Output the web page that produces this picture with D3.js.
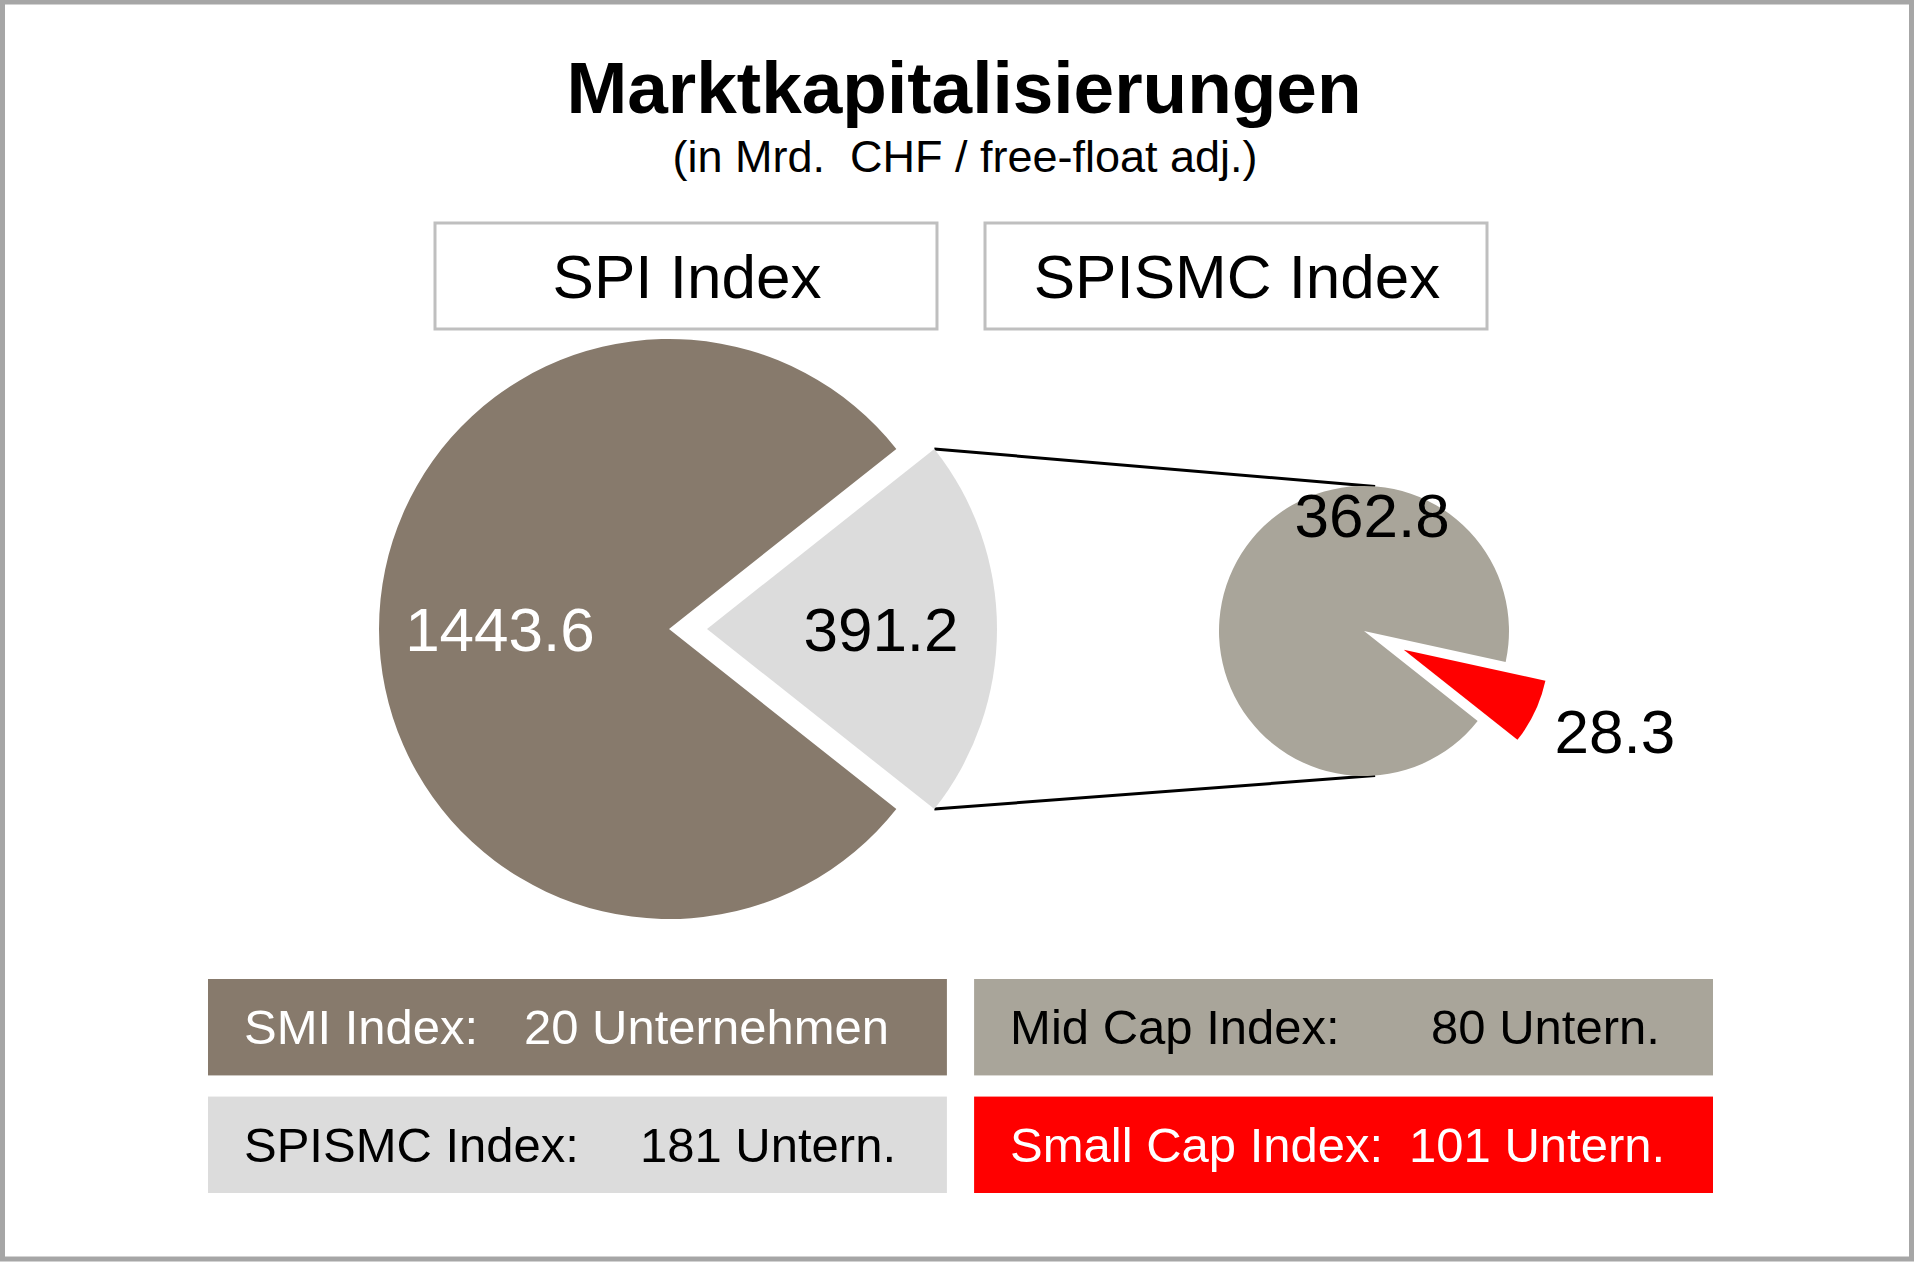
<!DOCTYPE html>
<html>
<head>
<meta charset="utf-8">
<script src="https://cdn.jsdelivr.net/npm/d3@7"></script>
<style>
    body { margin: 0; background: white; }
    svg { display: block; font-family: 'Liberation Sans', Arial, sans-serif; }
</style>
</head>
<body>
<svg id="fig_pie"></svg>
<script>
'use strict';

// values (Mrd. CHF)
var spi_names = ['SMI Index', 'SPISMC Index'];
var spi_values = [1443.6, 391.2];
var smc_names = ['Mid Cap Index', 'Small Cap Index'];
var smc_values = [362.8, 28.3];

var header_labels = ['SPI Index', 'SPISMC Index'];
var legend_labels = ['SMI Index:', 'Mid Cap Index:', 'SPISMC Index:', 'Small Cap Index:'];
var legend_counts = ['20 Unternehmen', '80 Untern.', '181 Untern.', '101 Untern.'];

var fig_pie = {
    plot_id: '#fig_pie',
    svg: null,
    width: 1916,
    height: 1262,
    font_label: 62,
    font_legend: 49,

    colors: {
        'SMI Index': '#877a6c',
        'SPISMC Index': '#dcdcdc',
        'Mid Cap Index': '#a9a59a',
        'Small Cap Index': '#ff0000'
    },
    text_colors: {
        'SMI Index': 'white',
        'SPISMC Index': 'black',
        'Mid Cap Index': 'black',
        'Small Cap Index': 'black'
    },
    legend_text_colors: ['white', 'black', 'black', 'white'],

    // main pie and secondary pie
    main: { cx: 669, cy: 629, r: 290 },
    sec: { cx: 1364, cy: 631, r: 145 },
    explode: { 'SPISMC Index': 38, 'Small Cap Index': 44 },

    // label placement: radius as fraction of r, angle (deg) or null for slice middle
    label_pos: {
        'SMI Index': { rf: 0.583, angle: null },
        'SPISMC Index': { rf: 0.6, angle: null },
        'Mid Cap Index': { rf: 0.80, angle: 4 },
        'Small Cap Index': { rf: 1.56, angle: 111 }
    },

    init: function() {
        this.svg = d3.select(this.plot_id)
            .attr('width', this.width)
            .attr('height', this.height);
    },

    draw: function() {
        this.init();
        this.svg.append('rect')
            .attr('x', 2.5)
            .attr('y', 2)
            .attr('width', 1909)
            .attr('height', 1257)
            .attr('fill', 'white')
            .attr('stroke', '#a6a6a6')
            .attr('stroke-width', 5);

        this._draw_title();
        this._draw_headers();

        // the SPISMC slice is centred at 3 o'clock, both pies start there too
        var total = d3.sum(spi_values);
        var start = Math.PI / 2 + Math.PI * spi_values[1] / total;

        var main_arcs = this._pie(spi_names, spi_values, start);
        var sec_arcs = this._pie(smc_names, smc_values, start);

        this._draw_connectors(main_arcs[1]);
        this._draw_pie(main_arcs, this.main);
        this._draw_pie(sec_arcs, this.sec);
        this._draw_legend();
    },

    _pie: function(names, values, start) {
        var list = names.map(function(n, i) { return { name: n, value: values[i] }; });
        return d3.pie()
            .sort(null)
            .value(function(d) { return d.value; })
            .startAngle(start)
            .endAngle(start + 2 * Math.PI)(list);
    },

    _offset: function(d) {
        var off = this.explode[d.data.name] || 0;
        var mid = (d.startAngle + d.endAngle) / 2;
        return [Math.sin(mid) * off, -Math.cos(mid) * off];
    },

    _draw_pie: function(arcs, p) {
        var self = this;
        var arc = d3.arc().innerRadius(0).outerRadius(p.r);
        var g = this.svg.append('g')
            .attr('transform', 'translate(' + p.cx + ',' + p.cy + ')');

        var slices = g.selectAll('g.slice')
            .data(arcs)
            .enter()
            .append('g')
            .attr('class', 'slice')
            .attr('transform', function(d) {
                var o = self._offset(d);
                return 'translate(' + o[0] + ',' + o[1] + ')';
            });

        slices.append('path')
            .attr('d', arc)
            .attr('fill', function(d) { return self.colors[d.data.name]; });

        slices.append('text')
            .attr('x', function(d) { return self._label_xy(d, p.r)[0]; })
            .attr('y', function(d) { return self._label_xy(d, p.r)[1]; })
            .attr('dy', '0.35em')
            .attr('text-anchor', 'middle')
            .attr('font-size', this.font_label)
            .attr('fill', function(d) { return self.text_colors[d.data.name]; })
            .text(function(d) { return d.data.value.toFixed(1); });
    },

    _label_xy: function(d, r) {
        var lp = this.label_pos[d.data.name];
        var a = lp.angle === null ? (d.startAngle + d.endAngle) / 2 : lp.angle * Math.PI / 180;
        return [Math.sin(a) * r * lp.rf, -Math.cos(a) * r * lp.rf];
    },

    _draw_connectors: function(d) {
        // lines from the exploded SPISMC slice to the top / bottom of the second pie
        // (startAngle is the upper edge of the slice, endAngle the lower one)
        var o = this._offset(d);
        var m = this.main, s = this.sec;
        var tip = 4.4 * Math.PI / 180;
        var pts = [
            [d.startAngle, tip],
            [d.endAngle, Math.PI - tip]
        ];
        var lines = pts.map(function(q) {
            return {
                x1: m.cx + o[0] + Math.sin(q[0]) * m.r,
                y1: m.cy + o[1] - Math.cos(q[0]) * m.r,
                x2: s.cx + Math.sin(q[1]) * s.r,
                y2: s.cy - Math.cos(q[1]) * s.r
            };
        });
        this.svg.selectAll('line.conn')
            .data(lines)
            .enter()
            .append('line')
            .attr('class', 'conn')
            .attr('x1', function(l) { return l.x1; })
            .attr('y1', function(l) { return l.y1; })
            .attr('x2', function(l) { return l.x2; })
            .attr('y2', function(l) { return l.y2; })
            .attr('stroke', 'black')
            .attr('stroke-width', 3);
    },

    _draw_title: function() {
        this.svg.append('text')
            .attr('x', 964)
            .attr('y', 113)
            .attr('text-anchor', 'middle')
            .attr('font-size', 73)
            .attr('font-weight', 'bold')
            .text('Marktkapitalisierungen');
        this.svg.append('text')
            .attr('x', 965)
            .attr('y', 172)
            .attr('text-anchor', 'middle')
            .attr('font-size', 45)
            .attr('xml:space', 'preserve')
            .style('white-space', 'pre')
            .text('(in Mrd.  CHF / free-float adj.)');
    },

    _draw_headers: function() {
        var xb = d3.scaleBand()
            .domain(header_labels)
            .range([435, 1487])
            .paddingInner(0.0873);
        var g = this.svg.selectAll('g.header')
            .data(header_labels)
            .enter()
            .append('g')
            .attr('class', 'header')
            .attr('transform', function(d) { return 'translate(' + xb(d) + ',223)'; });
        g.append('rect')
            .attr('width', xb.bandwidth())
            .attr('height', 106)
            .attr('fill', 'white')
            .attr('stroke', '#bfbfbf')
            .attr('stroke-width', 3);
        g.append('text')
            .attr('x', xb.bandwidth() / 2 + 1)
            .attr('y', 53)
            .attr('dy', '0.35em')
            .attr('text-anchor', 'middle')
            .attr('font-size', 62)
            .text(function(d) { return d; });
    },

    _draw_legend: function() {
        var self = this;
        var legend_fill = [
            this.colors[spi_names[0]], this.colors[smc_names[0]],
            this.colors[spi_names[1]], this.colors[smc_names[1]]
        ];
        // x of the count text inside each box
        var count_x = [316, 457, 432, 435];
        var xs = d3.scaleBand().domain([0, 1]).range([208, 1713]).paddingInner(0.0355);
        var ys = d3.scaleBand().domain([0, 1]).range([979, 1193]).paddingInner(0.18);

        var g = this.svg.selectAll('g.legend')
            .data(legend_labels)
            .enter()
            .append('g')
            .attr('class', 'legend')
            .attr('transform', function(d, i) {
                return 'translate(' + xs(i % 2) + ',' + ys(Math.floor(i / 2)) + ')';
            });
        g.append('rect')
            .attr('width', xs.bandwidth())
            .attr('height', ys.bandwidth())
            .attr('fill', function(d, i) { return legend_fill[i]; });
        g.append('text')
            .attr('x', 36)
            .attr('y', ys.bandwidth() / 2)
            .attr('dy', '0.35em')
            .attr('font-size', this.font_legend)
            .attr('fill', function(d, i) { return self.legend_text_colors[i]; })
            .text(function(d) { return d; });
        g.append('text')
            .attr('x', function(d, i) { return count_x[i]; })
            .attr('y', ys.bandwidth() / 2)
            .attr('dy', '0.35em')
            .attr('font-size', this.font_legend)
            .attr('fill', function(d, i) { return self.legend_text_colors[i]; })
            .text(function(d, i) { return legend_counts[i]; });
    }
};

fig_pie.draw();
</script>
</body>
</html>
